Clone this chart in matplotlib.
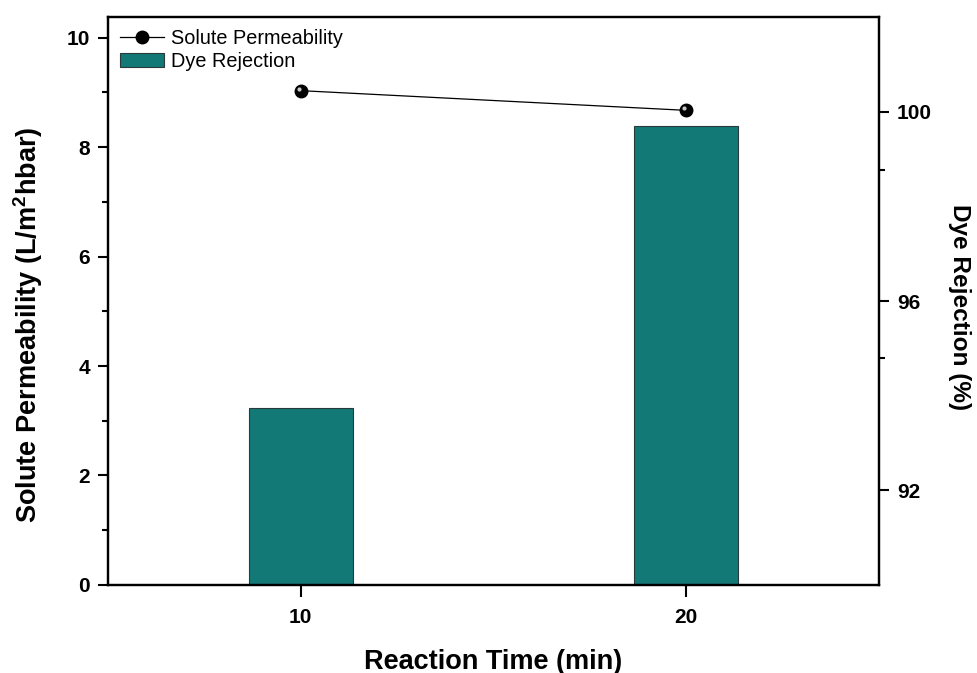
import matplotlib
matplotlib.use("Agg")
import matplotlib.pyplot as plt
import matplotlib.transforms as mtransforms
from matplotlib.ticker import FixedLocator

# Data
reaction_time = [10, 20]
solute_permeability = [9.03, 8.67]      # L/m^2 h bar (left axis)
dye_rejection = [93.74, 99.70]          # % (right axis)
left_ticks = [0, 2, 4, 6, 8, 10]
right_ticks = [92, 96, 100]

plt.rcParams["font.family"] = ["Liberation Sans", "DejaVu Sans"]
plt.rcParams["mathtext.fontset"] = "custom"
plt.rcParams["mathtext.rm"] = "Liberation Sans:bold"
plt.rcParams["mathtext.default"] = "regular"

fig = plt.figure(figsize=(9.78, 6.73), dpi=100)
ax = fig.add_axes([0.1104, 0.1308, 0.7884, 0.8435])
ax2 = ax.twinx()

bar_color = "#127977"

# Dye rejection bars on the right axis
bars = ax2.bar(reaction_time, dye_rejection, width=2.7, color=bar_color,
               edgecolor="#2a3a3a", linewidth=0.8, label="Dye Rejection", zorder=2)

# Solute permeability line with sphere-like markers on the left axis
line, = ax.plot(reaction_time, solute_permeability, color="black", lw=0.9,
                marker="o", markersize=9, markerfacecolor="black",
                markeredgecolor="black", label="Solute Permeability", zorder=3)
hl = mtransforms.offset_copy(ax.transData, fig=fig, x=-1.4, y=1.4, units="points")
ax.plot(reaction_time, solute_permeability, linestyle="none", marker="o",
        markersize=3.0, markerfacecolor="#c8c8c8", markeredgecolor="none",
        transform=hl, zorder=4)

ax.set_zorder(ax2.get_zorder() + 1)
ax.patch.set_visible(False)

ax.set_xlim(5, 25)
ax.set_ylim(0, 10.37)
ax2.set_ylim(90, 102)

ax.set_xticks(reaction_time)
ax.set_yticks(left_ticks)
ax.yaxis.set_minor_locator(FixedLocator([1, 3, 5, 7, 9]))
ax2.set_yticks(right_ticks)
ax2.yaxis.set_minor_locator(FixedLocator([94.79, 98.77]))

for a in (ax, ax2):
    for s in a.spines.values():
        s.set_linewidth(1.6)

ax.tick_params(axis="both", which="major", direction="out", length=7, width=1.5,
               labelsize=15, pad=6)
ax.tick_params(axis="y", which="minor", direction="out", length=4, width=1.5)
ax.tick_params(axis="x", which="major", length=8.5, pad=8)
ax.tick_params(top=False, right=False)
ax2.tick_params(axis="y", which="major", direction="out", length=7, width=1.5,
                labelsize=15, pad=6)
ax2.tick_params(axis="y", which="minor", direction="out", length=4, width=1.5)

for lbl in ax.get_xticklabels() + ax.get_yticklabels() + ax2.get_yticklabels():
    lbl.set_fontweight("bold")

ax.set_xlabel("Reaction Time (min)", fontsize=19.5, fontweight="bold")
ax.xaxis.set_label_coords(0.5, -0.112)
ax.set_ylabel(r"Solute Permeability (L/m$^2$hbar)", fontsize=19.5,
              fontweight="bold")
ax.yaxis.set_label_coords(-0.082, 0.458)
ax2.set_ylabel("Dye Rejection (%)", fontsize=17.6, fontweight="bold",
               rotation=270, va="center")
ax2.yaxis.set_label_coords(1.105, 0.489)

leg = ax.legend([line, bars], ["Solute Permeability", "Dye Rejection"],
                loc="upper left", frameon=False, fontsize=14.3,
                handlelength=2.2, handletextpad=0.35, labelspacing=0.2,
                borderaxespad=0.2, bbox_to_anchor=(0.0, 1.0))

fig.savefig("out.png", dpi=100)
